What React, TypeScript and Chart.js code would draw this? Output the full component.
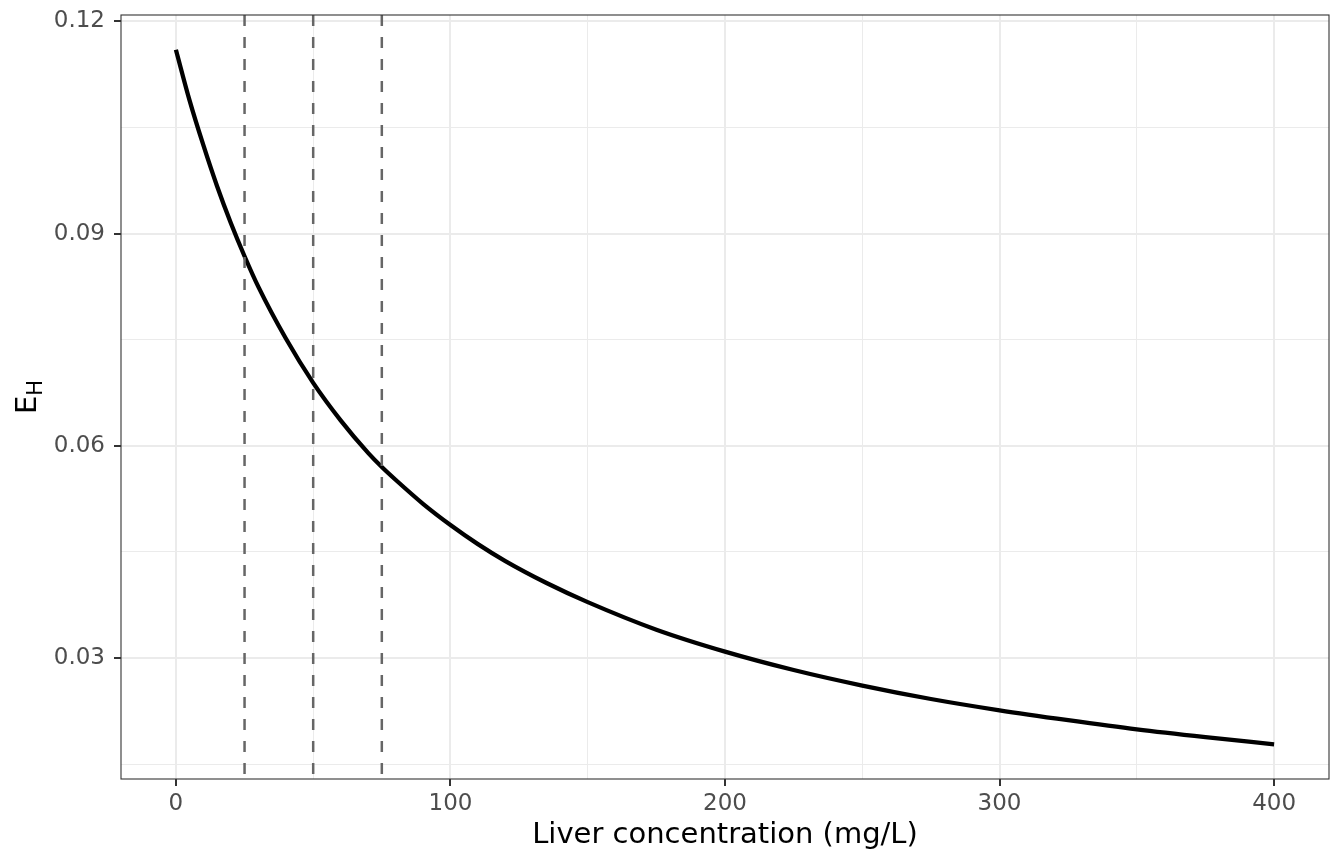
import React, { useEffect, useRef } from "react"
import { Chart, registerables } from "chart.js"

Chart.register(...registerables)

// liver concentration (mg/L) and hepatic extraction
const concentration = [0, 5, 10, 15, 20, 25, 30, 40, 50, 60, 70, 75, 80, 90, 100, 110, 120, 135, 150, 175, 200, 225, 250, 275, 300, 325, 350, 375, 400]
const extraction = [
  0.116, 0.1088, 0.1025, 0.0967, 0.0915, 0.0868, 0.0825, 0.0752, 0.0689, 0.0636, 0.059, 0.057, 0.0552, 0.0518, 0.0488,
  0.0461, 0.0437, 0.0406, 0.0379, 0.034, 0.0309, 0.0283, 0.0261, 0.0242, 0.0226, 0.0212, 0.0199, 0.0188, 0.0178,
]
const cutoffs = [25, 50, 75]

const xGrid = [0, 50, 100, 150, 200, 250, 300, 350, 400]
const xMajor = [0, 100, 200, 300, 400]
const yGrid = [0.015, 0.03, 0.045, 0.06, 0.075, 0.09, 0.105, 0.12]
const yMajor = [0.03, 0.06, 0.09, 0.12]
const yLabels = ["0.03", "0.06", "0.09", "0.12"]

const FONT = "'DejaVu Sans', Verdana, sans-serif"

const expand = (vals: number[]) => {
  const lo = Math.min(...vals)
  const hi = Math.max(...vals)
  const pad = (hi - lo) * 0.05
  return [lo - pad, hi + pad]
}

const decor = {
  id: "ggDecor",
  afterDatasetsDraw(chart: any) {
    const { ctx, chartArea: a, scales } = chart
    ctx.save()
    // dashed cutoffs
    ctx.strokeStyle = "#666666"
    ctx.lineWidth = 2.5
    ctx.setLineDash([11, 11])
    cutoffs.forEach((c) => {
      const px = scales.x.getPixelForValue(c)
      ctx.beginPath()
      ctx.moveTo(px, a.top)
      ctx.lineTo(px, a.bottom)
      ctx.stroke()
    })
    ctx.setLineDash([])
    // panel border
    ctx.strokeStyle = "#333333"
    ctx.lineWidth = 1.1
    ctx.strokeRect(a.left, a.top, a.right - a.left, a.bottom - a.top)
    ctx.restore()
  },
  afterDraw(chart: any) {
    const { ctx, chartArea: a } = chart
    ctx.save()
    ctx.fillStyle = "#000000"
    // x title
    ctx.font = `29px ${FONT}`
    ctx.textAlign = "center"
    ctx.textBaseline = "alphabetic"
    ctx.fillText("Liver concentration (mg/L)", (a.left + a.right) / 2, a.bottom + 64)
    // y title E with subscript H
    ctx.textAlign = "left"
    const wE = ctx.measureText("E").width
    ctx.font = `21px ${FONT}`
    const wH = ctx.measureText("H").width
    const cy = (a.top + a.bottom) / 2
    ctx.translate(36, cy + (wE + wH) / 2)
    ctx.rotate(-Math.PI / 2)
    ctx.font = `29px ${FONT}`
    ctx.fillText("E", 0, 0)
    ctx.font = `21px ${FONT}`
    ctx.fillText("H", wE, 5.7)
    ctx.restore()
  },
}

const App: React.FC = () => {
  const canvasRef = useRef<HTMLCanvasElement>(null)

  useEffect(() => {
    const ctx = canvasRef.current?.getContext("2d")
    if (!ctx) return
    const [xMin, xMax] = expand(concentration)
    const [yMin, yMax] = expand(extraction)

    const chart = new Chart(ctx, {
      type: "scatter",
      data: {
        datasets: [
          {
            data: concentration.map((c, i) => ({ x: c, y: extraction[i] })),
            showLine: true,
            borderColor: "#000000",
            borderWidth: 4.3,
            pointRadius: 0,
            cubicInterpolationMode: "monotone",
          },
        ],
      },
      options: {
        animation: false,
        responsive: true,
        maintainAspectRatio: false,
        layout: { padding: { top: 15, right: 15, left: 0, bottom: 0 } },
        plugins: { legend: { display: false }, tooltip: { enabled: false } },
        scales: {
          x: {
            type: "linear",
            min: xMin,
            max: xMax,
            afterBuildTicks: (s: any) => {
              s.ticks = xGrid.map((v) => ({ value: v }))
            },
            afterFit: (s: any) => {
              s.height = 85
              s.paddingLeft = 0
              s.paddingRight = 0
            },
            border: { display: false },
            grid: {
              color: "#EBEBEB",
              lineWidth: (c: any) => (xMajor.includes(c.tick?.value) ? 2 : 1),
              tickLength: 7,
              tickColor: (c: any) => (xMajor.includes(c.tick?.value) ? "#333333" : "rgba(0,0,0,0)"),
              tickWidth: 2,
            },
            ticks: {
              autoSkip: false,
              maxRotation: 0,
              padding: 4,
              color: "#4D4D4D",
              font: { family: FONT, size: 23 },
              callback: (v: any) => (xMajor.includes(v) ? String(v) : ""),
            },
          },
          y: {
            type: "linear",
            min: yMin,
            max: yMax,
            afterBuildTicks: (s: any) => {
              s.ticks = yGrid.map((v) => ({ value: v }))
            },
            afterFit: (s: any) => {
              s.width = 121
              s.paddingTop = 0
              s.paddingBottom = 0
            },
            border: { display: false },
            grid: {
              color: "#EBEBEB",
              lineWidth: (c: any) => (yMajor.includes(c.tick?.value) ? 2 : 1),
              tickLength: 7,
              tickColor: (c: any) => (yMajor.includes(c.tick?.value) ? "#333333" : "rgba(0,0,0,0)"),
              tickWidth: 2,
            },
            ticks: {
              autoSkip: false,
              padding: 9,
              color: "#4D4D4D",
              font: { family: FONT, size: 23 },
              callback: (v: any) => {
                const i = yMajor.indexOf(v)
                return i >= 0 ? yLabels[i] : ""
              },
            },
          },
        },
      },
      plugins: [decor],
    })

    return () => {
      chart.destroy()
    }
  }, [])

  return (
    <div style={{ position: "fixed", left: 0, top: 0, width: 1344, height: 864, background: "#ffffff" }}>
      <canvas ref={canvasRef}></canvas>
    </div>
  )
}

export default App
